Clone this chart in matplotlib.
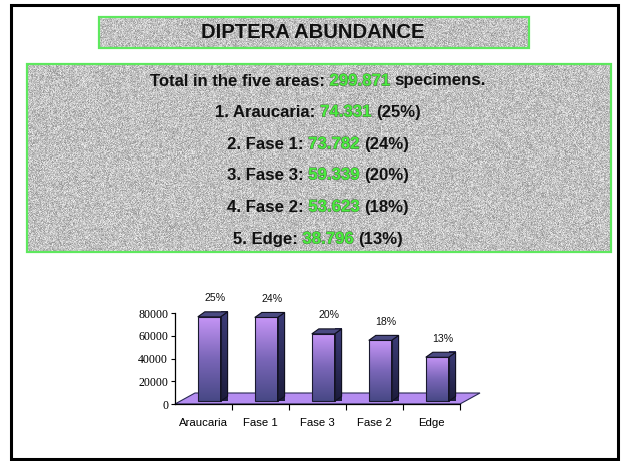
import numpy as np
import matplotlib
matplotlib.use("Agg")
import matplotlib.pyplot as plt
import matplotlib.patheffects as pe
from matplotlib.patches import Rectangle, Polygon

# ---------------- data ----------------
title = "DIPTERA ABUNDANCE"
total = 299871
categories = ["Araucaria", "Fase 1", "Fase 3", "Fase 2", "Edge"]
counts = [74331, 73782, 59339, 53623, 38796]
percents = [25, 24, 20, 18, 13]
yticks = [0, 20000, 40000, 60000, 80000]

W, H = 623, 461
fig = plt.figure(figsize=(W / 100, H / 100), dpi=100)
fig.patch.set_facecolor("white")

# overlay axes in pixel coords
ov = fig.add_axes([0, 0, 1, 1], zorder=0)
ov.set_xlim(0, W)
ov.set_ylim(H, 0)
ov.axis("off")

def fmt(v):
    return f"{v:,}".replace(",", ".")

def hash2(xx, yy, a, b):
    n = np.sin(xx * a + yy * b) * 43758.5453
    return n - np.floor(n)

def texture(x0, y0, x1, y1):
    w, h = int(x1 - x0), int(y1 - y0)
    yy, xx = np.mgrid[0:h, 0:w]
    xx = xx + x0
    yy = yy + y0
    n1 = hash2(xx, yy, 12.9898, 78.233)
    n2 = hash2(xx, yy, 39.3467, 11.135)
    g = 0.56 + 0.40 * (n1 + n2) / 2
    img = np.dstack([g, g, g])
    ov.imshow(img, extent=[x0, x1, y1, y0], interpolation="nearest", zorder=1, aspect="auto")
    ov.add_patch(Rectangle((x0, y0), x1 - x0, y1 - y0, fill=False,
                           edgecolor="#5ee85e", lw=1.6, zorder=2))

# outer slide border
ov.add_patch(Rectangle((11, 5), 607, 454, fill=False, edgecolor="black", lw=2.2, zorder=3))

# title box
texture(99, 17, 529, 48)
ov.text(313, 33, title, ha="center", va="center", fontsize=14.6, fontweight="bold",
        family="Liberation Sans", color="#111111", zorder=4)

# info box
texture(27, 64, 611, 252)

fig.canvas.draw()
renderer = fig.canvas.get_renderer()
FS = 12.1
GREEN = "#4aec3e"
green_fx = [pe.withStroke(linewidth=0.7, foreground="#4a6a44")]

def measure(s):
    t = ov.text(0, 0, s, fontsize=FS, fontweight="bold", family="Liberation Sans")
    w = t.get_window_extent(renderer).width
    t.remove()
    return w

space_w = measure("x x") - measure("xx")

def colored_line(y, parts, xc=318):
    widths = [measure(p) for p, _ in parts]
    total_w = sum(widths) + space_w * (len(parts) - 1)
    x = xc - total_w / 2
    for (p, c), w in zip(parts, widths):
        t = ov.text(x, y, p, ha="left", va="center", fontsize=FS, fontweight="bold",
                    family="Liberation Sans", color=c, zorder=4)
        if c == GREEN:
            t.set_path_effects(green_fx)
        x += w + space_w

line_y = [81, 112, 144, 175, 207, 239]
colored_line(line_y[0], [("Total in the five areas:", "#111111"), (fmt(total), GREEN),
                         ("specimens.", "#111111")])
for i, (cat, v, p) in enumerate(zip(categories, counts, percents)):
    colored_line(line_y[i + 1], [(f"{i + 1}. {cat}:", "#111111"), (fmt(v), GREEN),
                                 (f"({p}%)", "#111111")])

# ---------------- chart ----------------
ax_l, ax_r, ax_b, ax_t = 175, 460, 404, 313
ax = fig.add_axes([ax_l / W, 1 - ax_b / H, (ax_r - ax_l) / W, (ax_b - ax_t) / H], zorder=5)
ax.patch.set_alpha(0)
ax.set_xlim(-0.5, 4.5)
ax.set_ylim(0, 80000)

px_x = 5 / (ax_r - ax_l)         # category units per pixel
px_y = 80000 / (ax_b - ax_t)     # value units per pixel

# floor
fdx, fdy = 20 * px_x, 11 * px_y
floor = Polygon([(-0.5, 0), (4.5, 0), (4.5 + fdx, fdy), (-0.5 + fdx, fdy)],
                closed=True, facecolor="#b48cf0", edgecolor="#2a2a55", lw=0.8,
                clip_on=False, zorder=1)
ax.add_patch(floor)

base = 2300
bdx, bdy = 7 * px_x, 5 * px_y
grad = np.linspace(0, 1, 256).reshape(-1, 1)
front_cmap = matplotlib.colors.LinearSegmentedColormap.from_list(
    "front", ["#474885", "#7a66b8", "#c796f7"])
side_cmap = matplotlib.colors.LinearSegmentedColormap.from_list(
    "side", ["#1c1c3c", "#3c3c78"])

for i, v in enumerate(counts):
    x0, x1 = i - 0.1, i + 0.3
    top = base + v
    fr = Rectangle((x0, base), x1 - x0, v, facecolor="none", edgecolor="#1a1a30",
                   lw=0.8, zorder=4, clip_on=False)
    ax.add_patch(fr)
    im = ax.imshow(grad, extent=[x0, x1, base, top], origin="lower", cmap=front_cmap,
                   aspect="auto", zorder=3, clip_on=False)
    im.set_clip_path(fr)
    side = Polygon([(x1, base), (x1 + bdx, base + bdy), (x1 + bdx, top + bdy), (x1, top)],
                   closed=True, facecolor="none", edgecolor="#10101f", lw=0.8,
                   zorder=4, clip_on=False)
    ax.add_patch(side)
    im2 = ax.imshow(grad, extent=[x1, x1 + bdx, base, top + bdy], origin="lower",
                    cmap=side_cmap, aspect="auto", zorder=3, clip_on=False)
    im2.set_clip_path(side)
    topf = Polygon([(x0, top), (x0 + bdx, top + bdy), (x1 + bdx, top + bdy), (x1, top)],
                   closed=True, facecolor="#4a4a82", edgecolor="#10101f", lw=0.8,
                   zorder=4, clip_on=False)
    ax.add_patch(topf)
    ax.text(i + 0.2, v + 18500, f"{percents[i]}%", ha="center", va="center",
            fontsize=7.6, family="Liberation Sans", color="#111111", clip_on=False)

ax.set_xlim(-0.5, 4.5)
ax.set_ylim(0, 80000)

for s in ["top", "right"]:
    ax.spines[s].set_visible(False)
ax.spines["left"].set_linewidth(0.9)
ax.spines["bottom"].set_linewidth(0.9)
ax.spines["bottom"].set_zorder(6)

ax.set_yticks(yticks)
ax.set_yticklabels([str(t) for t in yticks], family="Liberation Serif", fontsize=8.6)
ax.tick_params(axis="y", direction="out", length=3, width=0.8, pad=2)
ax.set_xticks(range(len(categories)))
ax.set_xticklabels(categories, family="Liberation Sans", fontsize=8.2)
ax.tick_params(axis="x", which="major", length=0, pad=10)
ax.set_xticks(np.arange(0.5, 5, 1), minor=True)
ax.tick_params(axis="x", which="minor", direction="out", length=4, width=0.8)

fig.savefig("out.png", dpi=100, facecolor="white")
